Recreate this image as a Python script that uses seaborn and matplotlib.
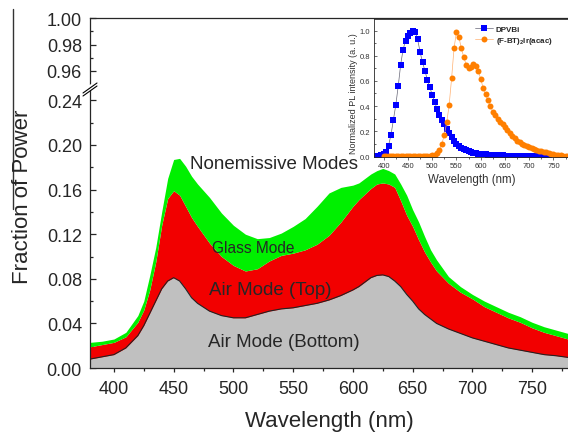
import numpy as np
import matplotlib
matplotlib.use("Agg")
import matplotlib.pyplot as plt
import seaborn as sns
from matplotlib.ticker import MultipleLocator, FixedLocator, FormatStrFormatter
from matplotlib.lines import Line2D

# main plot: cumulative fraction of power vs wavelength
wavelength = [380, 390, 400, 410, 420, 425, 430, 435, 440, 445, 450, 455, 460, 465, 470,
              480, 490, 500, 510, 520, 530, 540, 550, 560, 570, 580, 590, 600, 605, 610,
              615, 620, 625, 630, 635, 640, 645, 650, 655, 660, 665, 670, 680, 690, 700,
              710, 720, 730, 740, 750, 760, 770, 780]
air_bottom = [0.008, 0.010, 0.012, 0.018, 0.029, 0.038, 0.049, 0.060, 0.071, 0.078,
              0.081, 0.078, 0.071, 0.063, 0.058, 0.051, 0.047, 0.045, 0.045, 0.048,
              0.051, 0.053, 0.054, 0.056, 0.058, 0.061, 0.065, 0.070, 0.073, 0.077,
              0.081, 0.083, 0.0835, 0.082, 0.078, 0.073, 0.066, 0.060, 0.053, 0.048,
              0.044, 0.040, 0.035, 0.031, 0.027, 0.024, 0.021, 0.018, 0.016, 0.014,
              0.012, 0.011, 0.0095]
air_top = [0.019, 0.021, 0.023, 0.028, 0.041, 0.052, 0.070, 0.095, 0.128, 0.152,
           0.159, 0.155, 0.145, 0.135, 0.127, 0.112, 0.100, 0.092, 0.087, 0.089,
           0.096, 0.101, 0.103, 0.106, 0.111, 0.119, 0.131, 0.145, 0.151, 0.156,
           0.161, 0.165, 0.166, 0.165, 0.162, 0.150, 0.137, 0.127, 0.115, 0.104,
           0.095, 0.087, 0.076, 0.068, 0.062, 0.055, 0.050, 0.045, 0.041, 0.036,
           0.032, 0.029, 0.026]
glass_mode = [0.023, 0.024, 0.026, 0.032, 0.047, 0.060, 0.083, 0.108, 0.140, 0.170,
              0.187, 0.188, 0.181, 0.172, 0.165, 0.153, 0.139, 0.128, 0.120, 0.116,
              0.117, 0.121, 0.127, 0.134, 0.145, 0.157, 0.162, 0.164, 0.166, 0.170,
              0.174, 0.177, 0.179, 0.177, 0.174, 0.165, 0.155, 0.142, 0.131, 0.118,
              0.106, 0.097, 0.082, 0.073, 0.066, 0.060, 0.055, 0.050, 0.046, 0.041,
              0.037, 0.034, 0.031]

# inset: normalized PL spectra (5 nm steps)
wl_dpvbi = np.arange(380, 745, 5)
pl_dpvbi = [0.0, 0.002, 0.004, 0.008, 0.015, 0.035, 0.085, 0.17, 0.29, 0.41,
            0.56, 0.73, 0.85, 0.92, 0.96, 0.985, 1.0, 0.99, 0.93, 0.83,
            0.75, 0.68, 0.61, 0.55, 0.49, 0.43, 0.38, 0.33, 0.29, 0.255,
            0.22, 0.185, 0.15, 0.12, 0.10, 0.08, 0.065, 0.055, 0.046, 0.04,
            0.034, 0.029, 0.025, 0.021, 0.019, 0.017, 0.015, 0.013, 0.012, 0.011,
            0.009, 0.008, 0.007, 0.006, 0.005, 0.005, 0.004, 0.004, 0.003, 0.003,
            0.002, 0.002, 0.002, 0.001, 0.001, 0.001, 0.0, 0.0, 0.0, 0.0,
            0.0, 0.0, 0.0]
wl_ir = np.arange(400, 785, 5)
pl_ir = [0.003, 0.003, 0.003, 0.003, 0.003, 0.003, 0.003, 0.003, 0.003, 0.003,
         0.003, 0.003, 0.003, 0.003, 0.003, 0.003, 0.003, 0.003, 0.003, 0.003,
         0.006, 0.012, 0.025, 0.05, 0.10, 0.17, 0.27, 0.41, 0.62, 0.86,
         0.99, 0.95, 0.86, 0.79, 0.73, 0.70, 0.71, 0.735, 0.72, 0.68,
         0.615, 0.545, 0.495, 0.445, 0.40, 0.355, 0.325, 0.30, 0.275, 0.255,
         0.235, 0.21, 0.185, 0.162, 0.142, 0.125, 0.112, 0.10, 0.09, 0.08,
         0.072, 0.064, 0.056, 0.049, 0.044, 0.039, 0.035, 0.03, 0.026, 0.021,
         0.017, 0.013, 0.01, 0.008, 0.005, 0.004, 0.003]

sns.set_style("ticks")
plt.rcParams['font.family'] = ['Liberation Sans', 'DejaVu Sans']
plt.rcParams['mathtext.fontset'] = 'custom'
plt.rcParams['mathtext.rm'] = 'Liberation Sans'
plt.rcParams['mathtext.bf'] = 'Liberation Sans:bold'

W, H = 568, 435
fig = plt.figure(figsize=(W / 100, H / 100), dpi=100)


def box(l, t, r, b):
    return [l / W, 1 - b / H, (r - l) / W, (b - t) / H]


ax = fig.add_axes(box(90, 89, 568, 369))
ax_up = fig.add_axes(box(90, 19.3, 568, 89), sharex=ax)

green = '#00f000'
red = '#f20000'
grey = '#c0c0c0'

ax.fill_between(wavelength, 0, air_bottom, color=grey, lw=0)
ax.fill_between(wavelength, air_bottom, air_top, color=red, lw=0)
ax.fill_between(wavelength, air_top, glass_mode, color=green, lw=0)
sns.lineplot(x=wavelength, y=air_bottom, ax=ax, color='#222222', lw=0.8)

ax.set_xlim(380, 780)
ax.set_ylim(0, 280 / 1115)
ax_up.set_ylim(1 - 69.7 / 1316, 1.0)

ax.xaxis.set_major_locator(MultipleLocator(50))
ax.xaxis.set_minor_locator(FixedLocator(np.arange(425, 780, 50)))
ax.yaxis.set_major_locator(MultipleLocator(0.04))
ax.yaxis.set_minor_locator(MultipleLocator(0.02))
ax.yaxis.set_major_formatter(FormatStrFormatter('%.2f'))
ax_up.yaxis.set_major_locator(FixedLocator([0.96, 0.98, 1.00]))
ax_up.yaxis.set_minor_locator(FixedLocator([0.97, 0.99]))
ax_up.yaxis.set_major_formatter(FormatStrFormatter('%.2f'))

ax.tick_params(axis='x', which='major', direction='out', length=3, width=0.9,
               labelsize=13, pad=5.5)
ax.tick_params(axis='x', which='minor', direction='out', length=2, width=0.9)
for a in (ax, ax_up):
    a.tick_params(axis='y', which='major', direction='in', length=4.5, width=0.9,
                  labelsize=13, pad=5.8)
    a.tick_params(axis='y', which='minor', direction='in', length=2.5, width=0.9)
    for s in a.spines.values():
        s.set_linewidth(0.9)
ax_up.tick_params(axis='x', which='both', bottom=False, labelbottom=False)

ax.spines['top'].set_visible(False)
ax.spines['right'].set_visible(False)
ax_up.spines['bottom'].set_visible(False)
ax_up.spines['right'].set_visible(False)
ax_up.patch.set_alpha(0)

ax.text(533.6, 0.183, 'Nonemissive Modes', ha='center', va='center', fontsize=13.5)
ax.text(516.4, 0.1085, 'Glass Mode', ha='center', va='center', fontsize=11.2)
ax.text(531, 0.0704, 'Air Mode (Top)', ha='center', va='center', fontsize=13.5)
ax.text(542.3, 0.0238, 'Air Mode (Bottom)', ha='center', va='center', fontsize=13.5)

fig.text(329.5 / W, 1 - 422 / H, 'Wavelength (nm)', ha='center', va='center', fontsize=16)
fig.text(22.5 / W, 1 - 197 / H, 'Fraction of Power', ha='center', va='center',
         rotation=90, fontsize=16)

# axis break marks
fig.add_artist(Line2D([86 / W, 94 / W], [1 - 91.5 / H, 1 - 86.5 / H], color='white', lw=4))
for dy in (0, 3):
    fig.add_artist(Line2D([83 / W, 97 / W], [1 - (94 + dy) / H, 1 - (84 + dy) / H],
                          color='black', lw=0.8))
fig.add_artist(Line2D([13 / W, 13 / W], [1 - 10 / H, 1 - 210 / H], color='#333333', lw=1))

# inset
ax_in = fig.add_axes(box(374, 20, 568, 158))
ax_in.set_facecolor('white')
sns.lineplot(x=wl_dpvbi, y=pl_dpvbi, ax=ax_in, color='#666677', lw=0.5,
             marker='s', markersize=4, markerfacecolor='#0000ff',
             markeredgewidth=0, label='DPVBi')
sns.lineplot(x=wl_ir, y=pl_ir, ax=ax_in, color='#ffb070', lw=0.5,
             marker='o', markersize=4.3, markerfacecolor='#ff7f00',
             markeredgewidth=0, label=r'(F-BT)$_\mathbf{2}$Ir(acac)')
ax_in.set_xlim(380, 780)
ax_in.set_ylim(-0.006, 1.093)
ax_in.xaxis.set_major_locator(MultipleLocator(50))
ax_in.xaxis.set_minor_locator(FixedLocator(np.arange(425, 780, 50)))
ax_in.yaxis.set_major_locator(MultipleLocator(0.2))
ax_in.yaxis.set_minor_locator(MultipleLocator(0.1))
ax_in.yaxis.set_major_formatter(FormatStrFormatter('%.1f'))
ax_in.tick_params(axis='x', which='major', direction='out', length=2, width=0.5,
                  labelsize=5.5, pad=1.6, colors='#333333')
ax_in.tick_params(axis='x', which='minor', direction='out', length=1.2, width=0.5)
ax_in.tick_params(axis='y', which='major', direction='in', length=2, width=0.5,
                  labelsize=5.5, pad=3, colors='#333333')
ax_in.tick_params(axis='y', which='minor', direction='in', length=1.2, width=0.5)
ax_in.spines['right'].set_visible(False)
for s in ax_in.spines.values():
    s.set_linewidth(0.6)
ax_in.set_xlabel('')
ax_in.set_ylabel('')
leg = ax_in.legend(loc='upper left', bbox_to_anchor=(0.52, 0.955), frameon=False,
                   prop={'size': 5.8, 'weight': 'bold'}, handlelength=2.2,
                   handletextpad=0.4, borderpad=0, borderaxespad=0, labelspacing=0.25)
fig.text(471.5 / W, 1 - 180 / H, 'Wavelength (nm)', ha='center', va='center',
         fontsize=8.3, color='#333333')
fig.text(354 / W, 1 - 94 / H, 'Normalized PL intensity (a. u.)', ha='center',
         va='center', rotation=90, fontsize=6.5, color='#333333')

fig.savefig('out.png', dpi=100)
